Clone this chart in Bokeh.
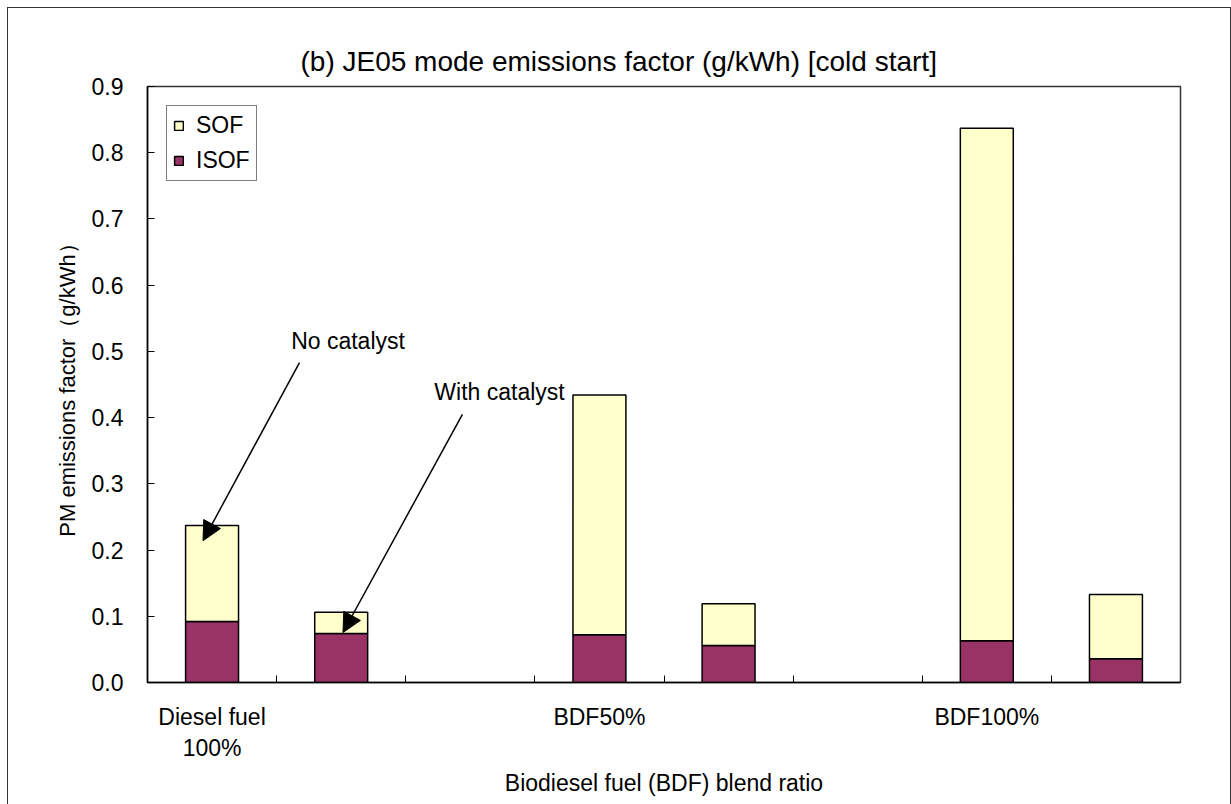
from bokeh.plotting import figure
from bokeh.models import (FixedTicker, Legend, LegendItem, Label, Arrow, NormalHead,
                          ColumnDataSource, CustomJSTickFormatter, LinearAxis)
from bokeh.embed import file_html
from bokeh.resources import INLINE

# ---- data ----
slots = [0.5, 1.5, 3.5, 4.5, 6.5, 7.5]            # bar slot centers (8 slots, 3 groups)
isof = [0.092, 0.074, 0.072, 0.056, 0.063, 0.036]
total = [0.237, 0.106, 0.434, 0.119, 0.837, 0.133]
sof = [t - i for t, i in zip(total, isof)]
group_labels = ["Diesel fuel\n100%", "BDF50%", "BDF100%"]
group_pos = [0.5, 3.5, 6.5]
yticks = [0.0, 0.1, 0.2, 0.3, 0.4, 0.5, 0.6, 0.7, 0.8, 0.9]

FONT = "Liberation Sans"
FS = "23px"

src = ColumnDataSource(dict(x=slots, isof=isof, sof=sof))

p = figure(width=1222, height=796, x_range=(0, 8), y_range=(0, 0.9),
           output_backend="svg", toolbar_location=None,
           min_border_left=139, min_border_right=50, min_border_top=78,
           min_border_bottom=122)
p.styles = {"margin-left": "8px", "margin-top": "8px",
            "outline": "1.5px solid #333333"}

p.title.text = "(b) JE05 mode emissions factor (g/kWh) [cold start]"
p.title.align = "left"
p.title.offset = 153
p.title.text_font = FONT
p.title.text_font_size = "28px"
p.title.text_font_style = "normal"
p.title.text_color = "black"
p.title.standoff = 20

p.outline_line_color = "#333333"
p.outline_line_width = 1.5
p.xgrid.visible = False
p.ygrid.visible = False

r = p.vbar_stack(["isof", "sof"], x="x", width=0.41, source=src,
                 fill_color=["#993366", "#FFFFCC"], line_color="black", line_width=1.5)

# y axis
ya = p.yaxis[0]
ya.ticker = FixedTicker(ticks=yticks)
ya.formatter = CustomJSTickFormatter(code="return tick.toFixed(1);")
ya.major_tick_in = 7
ya.major_tick_out = 0
ya.minor_tick_line_color = None
ya.major_label_text_font = FONT
ya.major_label_text_font_size = FS
ya.major_label_text_color = "black"
ya.major_label_standoff = 24
ya.axis_label = "PM emissions factor（g/kWh）"
ya.axis_label_text_font = FONT
ya.axis_label_text_font_size = "22px"
ya.axis_label_text_font_style = "normal"
ya.axis_label_text_color = "black"
ya.axis_label_standoff = 9
ya.axis_line_color = "black"
ya.axis_line_width = 1.5
ya.major_tick_line_color = "black"

# x axis (boundary ticks only)
xa = p.xaxis[0]
xa.ticker = FixedTicker(ticks=[1, 2, 3, 4, 5, 6, 7])
xa.major_label_overrides = {i: "" for i in range(0, 9)}
xa.major_label_text_font_size = "1px"
xa.major_label_standoff = 0
xa.major_tick_in = 7
xa.major_tick_out = 0
xa.minor_tick_line_color = None
xa.axis_line_color = "black"
xa.axis_line_width = 1.5
xa.major_tick_line_color = "black"

# x axis for group labels
xg = LinearAxis(ticker=FixedTicker(ticks=group_pos),
                major_label_overrides={pos: lab for pos, lab in zip(group_pos, group_labels)},
                axis_line_color=None, major_tick_line_color=None, minor_tick_line_color=None,
                major_label_text_font=FONT, major_label_text_font_size=FS,
                major_label_text_color="black", major_label_standoff=15,
                axis_label="Biodiesel fuel (BDF) blend ratio",
                axis_label_text_font=FONT, axis_label_text_font_size=FS,
                axis_label_text_font_style="normal", axis_label_text_color="black",
                axis_label_standoff=6)
p.add_layout(xg, "below")

# annotations
p.add_layout(Label(x=1.553, y=0.515, text="No catalyst", text_align="center",
                   text_baseline="middle", text_font=FONT, text_font_size=FS,
                   text_color="black"))
p.add_layout(Label(x=2.726, y=0.439, text="With catalyst", text_align="center",
                   text_baseline="middle", text_font=FONT, text_font_size=FS,
                   text_color="black"))
p.add_layout(Arrow(x_start=1.177, y_start=0.483, x_end=0.430, y_end=0.214,
                   line_width=1.5, line_color="black",
                   end=NormalHead(size=19, fill_color="black", line_color="black")))
p.add_layout(Arrow(x_start=2.439, y_start=0.405, x_end=1.514, y_end=0.0755,
                   line_width=1.5, line_color="black",
                   end=NormalHead(size=19, fill_color="black", line_color="black")))

legend = Legend(items=[LegendItem(label="SOF", renderers=[r[1]]),
                       LegendItem(label="ISOF", renderers=[r[0]])],
                location="top_left", margin=19, padding=6, spacing=8,
                glyph_width=11, glyph_height=11, label_standoff=12,
                label_text_font=FONT, label_text_font_size=FS, label_text_color="black",
                border_line_color="black", border_line_width=1.2,
                background_fill_alpha=1.0)
p.add_layout(legend)

open("out.html", "w").write(file_html(p, INLINE))
